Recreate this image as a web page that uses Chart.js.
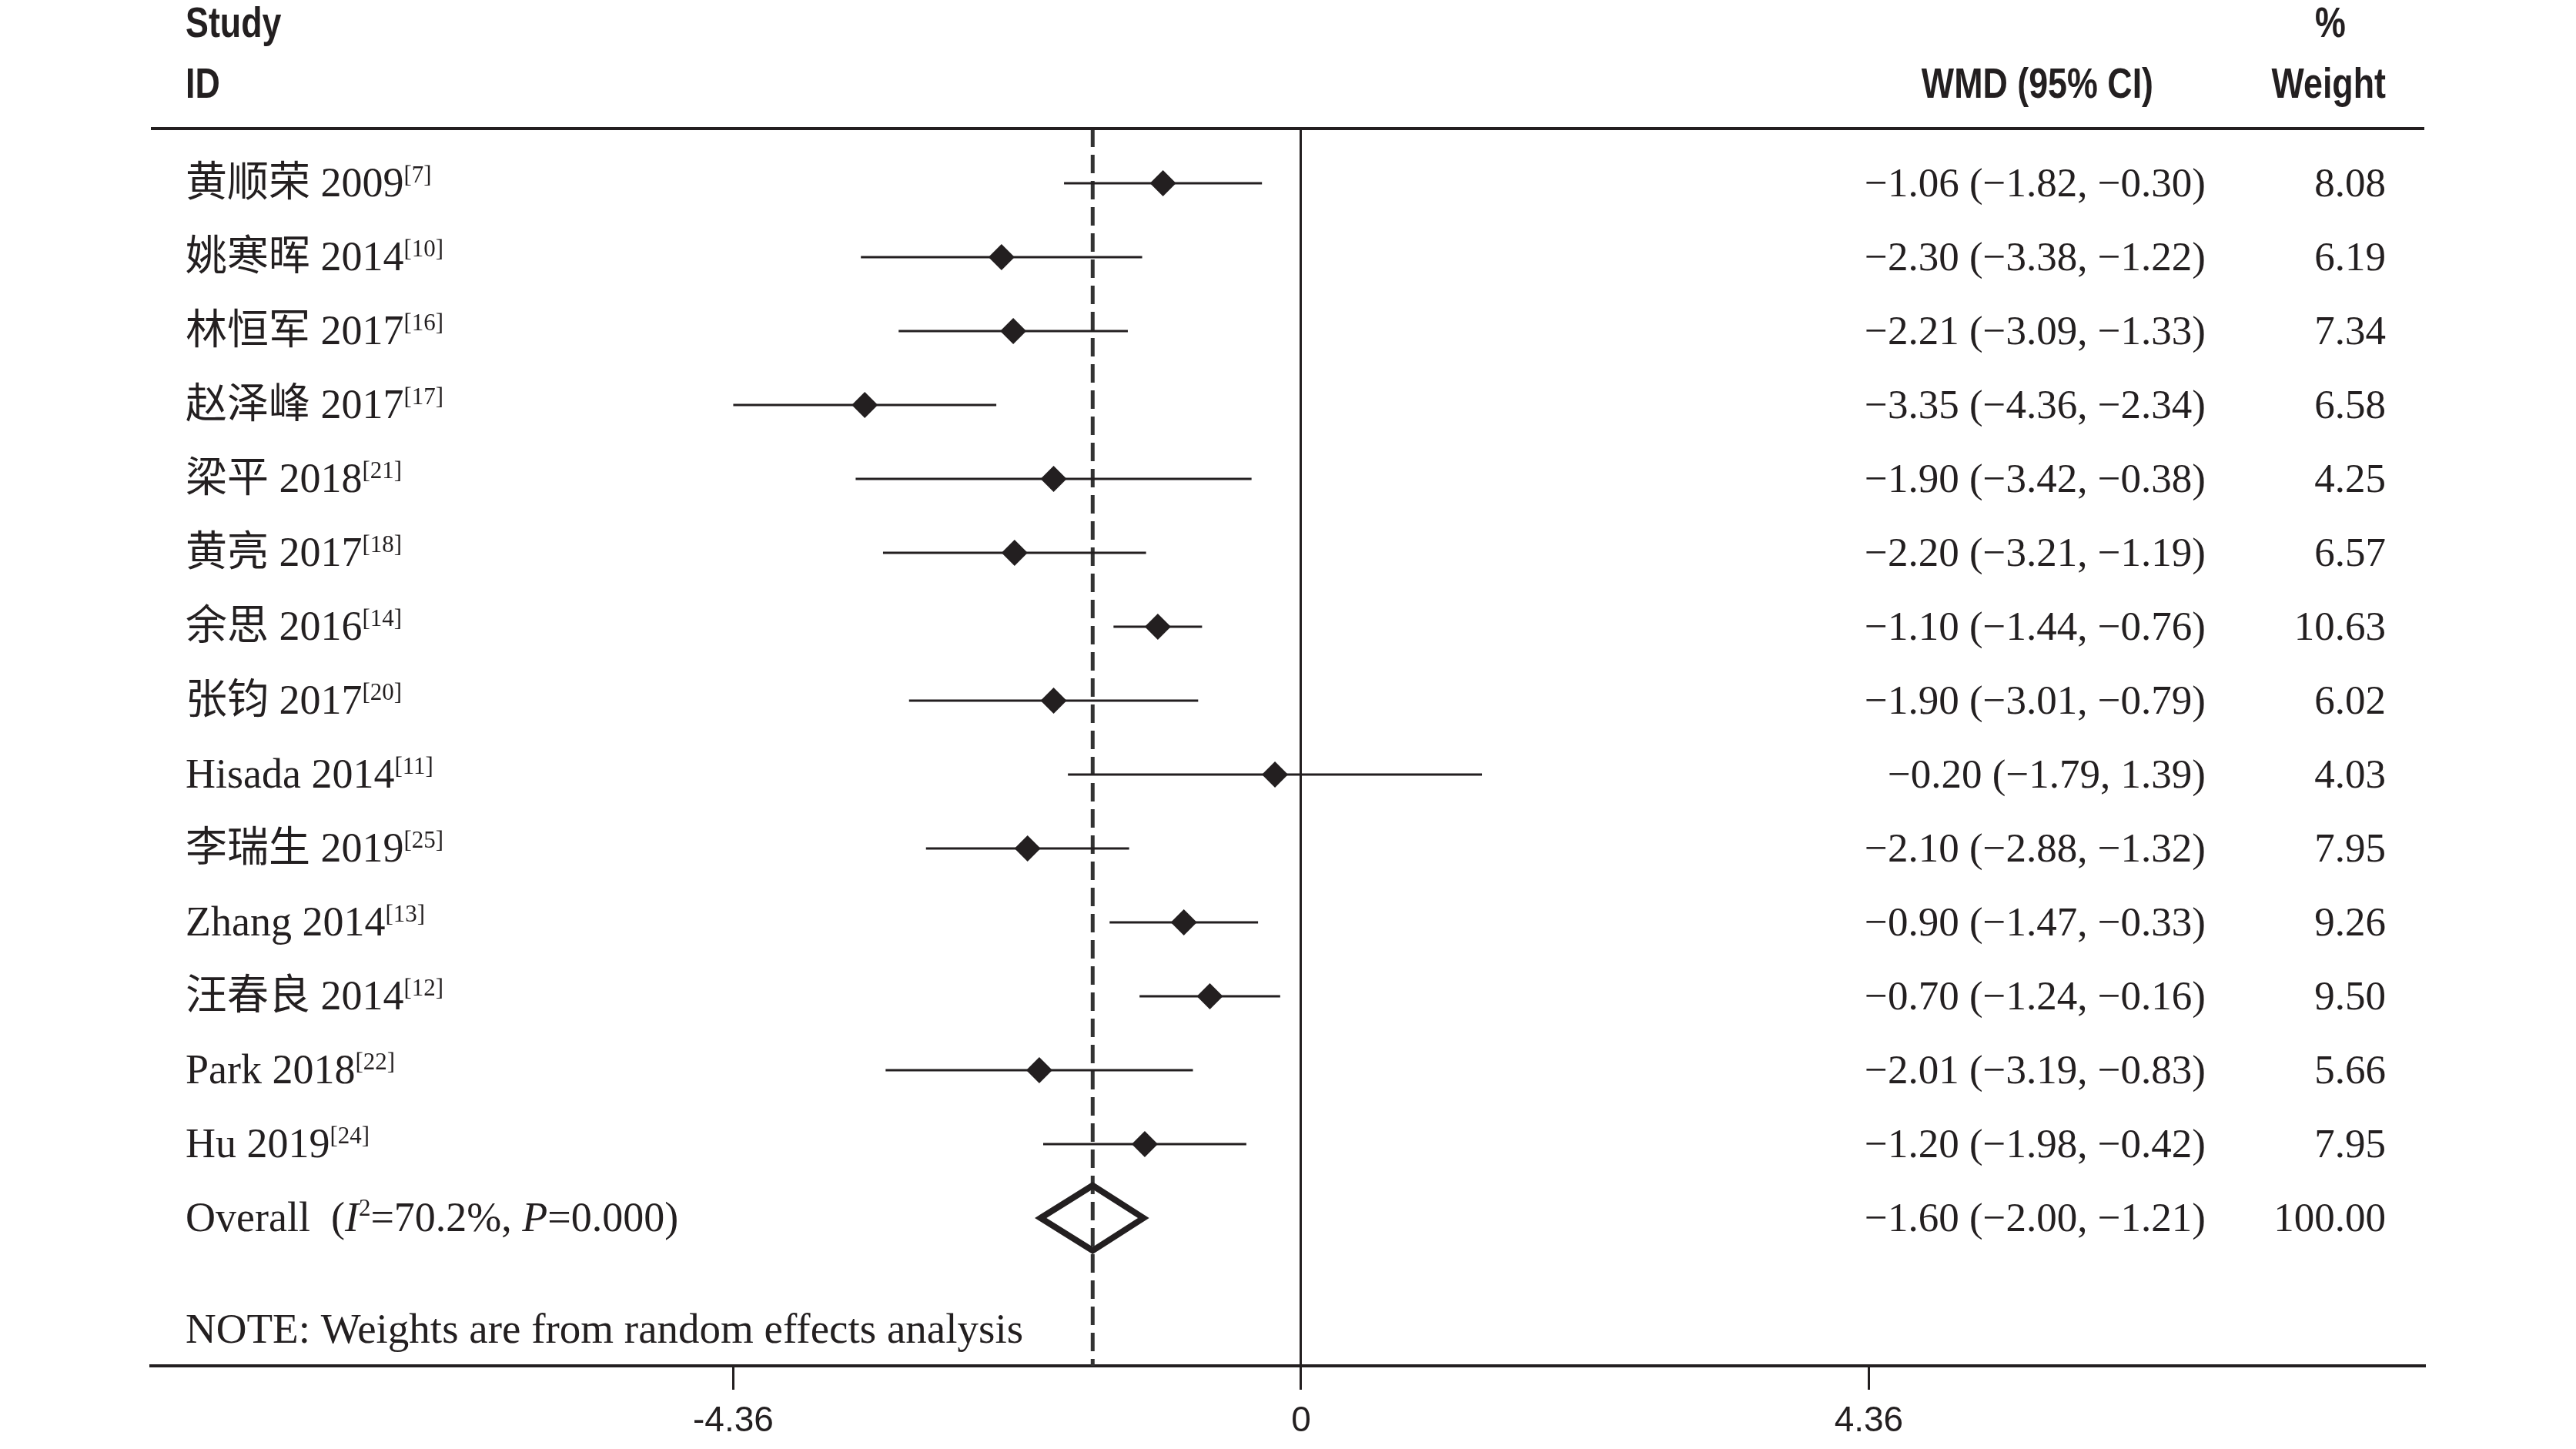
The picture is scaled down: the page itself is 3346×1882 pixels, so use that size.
<!DOCTYPE html>
<html>
<head>
<meta charset="utf-8">
<script src="https://cdn.jsdelivr.net/npm/chart.js@4.4.0/dist/chart.umd.min.js"></script>
<style>
html, body { margin: 0; padding: 0; background: #fff; overflow: hidden; }
canvas { display: block; }
</style>
</head>
<body>
<canvas id="forest" width="3346" height="1882"></canvas>
<script>
// study rows, top to bottom
const studies = ['黄顺荣 2009', '姚寒晖 2014', '林恒军 2017', '赵泽峰 2017', '梁平 2018',
    '黄亮 2017', '余思 2016', '张钧 2017', 'Hisada 2014', '李瑞生 2019',
    'Zhang 2014', '汪春良 2014', 'Park 2018', 'Hu 2019'];
const refs = ['[7]', '[10]', '[16]', '[17]', '[21]', '[18]', '[14]', '[20]', '[11]', '[25]',
    '[13]', '[12]', '[22]', '[24]'];
const wmd = [-1.06, -2.30, -2.21, -3.35, -1.90, -2.20, -1.10, -1.90, -0.20, -2.10, -0.90, -0.70, -2.01, -1.20];
const ciLow = [-1.82, -3.38, -3.09, -4.36, -3.42, -3.21, -1.44, -3.01, -1.79, -2.88, -1.47, -1.24, -3.19, -1.98];
const ciHigh = [-0.30, -1.22, -1.33, -2.34, -0.38, -1.19, -0.76, -0.79, 1.39, -1.32, -0.33, -0.16, -0.83, -0.42];
const weights = ['8.08', '6.19', '7.34', '6.58', '4.25', '6.57', '10.63', '6.02', '4.03', '7.95',
    '9.26', '9.50', '5.66', '7.95'];

const overallWmd = -1.60;
const overallLow = -2.00;
const overallHigh = -1.21;
const overallWeight = '100.00';

const xTicks = [-4.36, 0, 4.36];
const xTickLabels = ['-4.36', '0', '4.36'];

const ink = '#231f20';
const serif = "'Liberation Serif', 'Noto Sans CJK SC', serif";
const sans = "'Liberation Sans', Arial, sans-serif";
const yMin = -0.74;
const yMax = 16.0;
const overallRow = studies.length;
const noteRow = 15.51;

function fmt(v) {
    return (v < 0 ? '\u2212' : '') + Math.abs(v).toFixed(2);
}

// draw a sequence of text pieces (sizes, italics, superscripts) left to right
function drawRuns(ctx, parts, x, y) {
    parts.forEach(p => {
        ctx.font = (p.italic ? 'italic ' : '') + p.size + 'px ' + serif;
        ctx.fillText(p.t, x, y - (p.rise || 0));
        x += ctx.measureText(p.t).width;
    });
}

// condensed bold header text
function drawHeader(ctx, text, x, y, align) {
    const squeeze = 0.8;
    ctx.save();
    ctx.font = 'bold 56px ' + sans;
    const w = ctx.measureText(text).width * squeeze;
    const left = align === 'right' ? x - w : align === 'center' ? x - w / 2 : x;
    ctx.translate(left, y);
    ctx.scale(squeeze, 1);
    ctx.textAlign = 'left';
    ctx.fillText(text, 0, 0);
    ctx.restore();
}

const tablePlugin = {
    id: 'forestTable',
    afterDraw(chart) {
        const ctx = chart.ctx;
        const area = chart.chartArea;
        const ys = chart.scales.y;
        ctx.save();
        ctx.fillStyle = ink;
        ctx.textBaseline = 'alphabetic';

        // top rule
        ctx.strokeStyle = ink;
        ctx.lineWidth = 4;
        ctx.beginPath();
        ctx.moveTo(area.left, area.top);
        ctx.lineTo(area.right, area.top);
        ctx.stroke();

        // headers
        drawHeader(ctx, 'Study', 241, 48, 'left');
        drawHeader(ctx, 'ID', 241, 127, 'left');
        drawHeader(ctx, 'WMD (95% CI)', 2797, 127, 'right');
        drawHeader(ctx, '%', 3027, 48, 'center');
        drawHeader(ctx, 'Weight', 3099, 127, 'right');

        const labelX = 241;
        const wmdX = 2865;
        const weightX = 3099;

        studies.forEach((name, i) => {
            const base = ys.getPixelForValue(i) + 17;
            ctx.textAlign = 'left';
            drawRuns(ctx, [
                { t: name, size: 54 },
                { t: refs[i], size: 31, rise: 18 }
            ], labelX, base);
            ctx.font = '53px ' + serif;
            ctx.textAlign = 'right';
            ctx.fillText(fmt(wmd[i]) + ' (' + fmt(ciLow[i]) + ', ' + fmt(ciHigh[i]) + ')', wmdX, base);
            ctx.fillText(weights[i], weightX, base);
        });

        const ob = ys.getPixelForValue(overallRow) + 17;
        ctx.textAlign = 'left';
        drawRuns(ctx, [
            { t: 'Overall  (', size: 54 },
            { t: 'I', size: 54, italic: true },
            { t: '2', size: 31, rise: 20 },
            { t: '=70.2%, ', size: 54 },
            { t: 'P', size: 54, italic: true },
            { t: '=0.000)', size: 54 }
        ], labelX, ob);
        ctx.font = '53px ' + serif;
        ctx.textAlign = 'right';
        ctx.fillText(fmt(overallWmd) + ' (' + fmt(overallLow) + ', ' + fmt(overallHigh) + ')', wmdX, ob);
        ctx.fillText(overallWeight, weightX, ob);

        ctx.textAlign = 'left';
        ctx.font = '55px ' + serif;
        ctx.fillText('NOTE: Weights are from random effects analysis', labelX, ys.getPixelForValue(noteRow) + 17);
        ctx.restore();
    }
};

const ciSets = studies.map((s, i) => ({
    type: 'line',
    data: [{ x: ciLow[i], y: i }, { x: ciHigh[i], y: i }],
    borderColor: ink,
    borderWidth: 3,
    pointRadius: 0,
    order: 3
}));

const pointSet = {
    type: 'scatter',
    data: wmd.map((v, i) => ({ x: v, y: i })),
    pointStyle: 'rectRot',
    pointRadius: 17,
    backgroundColor: ink,
    borderWidth: 0,
    order: 1
};

const diamondSet = {
    type: 'line',
    data: [
        { x: overallLow, y: overallRow },
        { x: overallWmd, y: overallRow - 0.44 },
        { x: overallHigh, y: overallRow },
        { x: overallWmd, y: overallRow + 0.44 },
        { x: overallLow, y: overallRow },
        { x: overallWmd, y: overallRow - 0.44 }
    ],
    borderColor: ink,
    borderWidth: 8,
    borderJoinStyle: 'miter',
    pointRadius: 0,
    fill: false,
    tension: 0,
    order: 2
};

const dashSet = {
    type: 'line',
    data: [{ x: overallWmd, y: yMin }, { x: overallWmd, y: yMax }],
    borderColor: '#333',
    borderWidth: 5,
    borderDash: [24, 10],
    pointRadius: 0,
    order: 4
};

new Chart(document.getElementById('forest').getContext('2d'), {
    type: 'scatter',
    data: { datasets: [pointSet, diamondSet, ...ciSets, dashSet] },
    options: {
        responsive: false,
        animation: false,
        devicePixelRatio: 1,
        layout: { padding: { left: 196, right: 197, top: 167, bottom: 0 } },
        plugins: { legend: { display: false }, tooltip: { enabled: false } },
        scales: {
            x: {
                type: 'linear',
                min: -8.832,
                max: 8.626,
                afterBuildTicks: scale => { scale.ticks = xTicks.map(v => ({ value: v })); },
                afterFit: scale => { scale.height = 108; },
                grid: {
                    color: c => (c.tick && c.tick.value === 0 ? ink : 'rgba(0,0,0,0)'),
                    lineWidth: 3,
                    tickColor: ink,
                    tickWidth: 3,
                    tickLength: 31,
                    drawOnChartArea: true
                },
                border: { display: true, color: ink, width: 4 },
                ticks: {
                    autoSkip: false,
                    maxRotation: 0,
                    padding: 14,
                    color: ink,
                    font: { family: sans, size: 46 },
                    callback: (v, i) => xTickLabels[i]
                }
            },
            y: { type: 'linear', display: false, reverse: true, min: yMin, max: yMax }
        }
    },
    plugins: [tablePlugin]
});
</script>
</body>
</html>
